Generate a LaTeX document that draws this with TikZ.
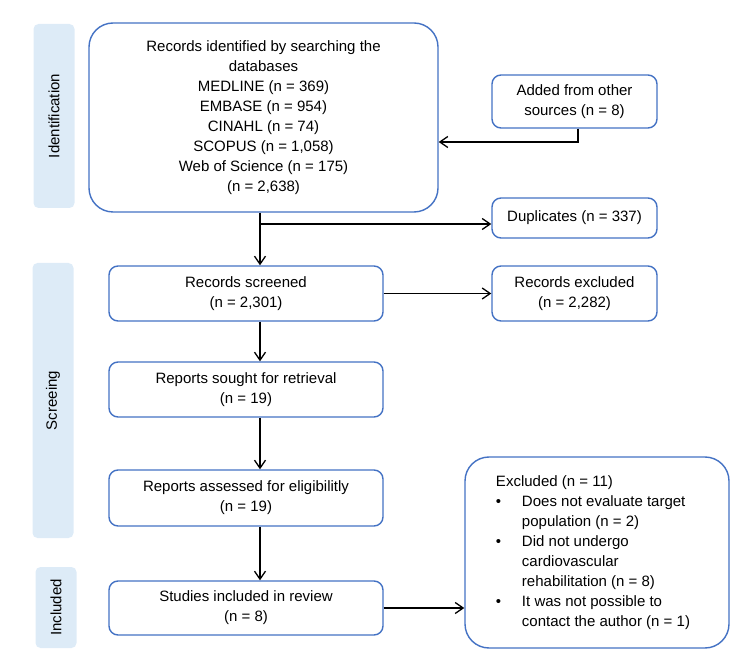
\documentclass[tikz,border=0pt]{standalone}
\usepackage{fontspec}
\setmainfont{Liberation Sans}
\usetikzlibrary{positioning,arrows.meta}
\definecolor{boxblue}{HTML}{4472C4}
\definecolor{barblue}{HTML}{DDEBF7}

\begin{document}
\begin{tikzpicture}[x=1pt, y=-1pt,
    >={Straight Barb[length=8pt,width=11pt]},
    every node/.style={font=\fontsize{15}{20}\selectfont, inner sep=2pt},
    stagebar/.style={fill=barblue, rounded corners=5pt, rotate=90, minimum height=41pt},
    flowbox/.style={draw=boxblue, line width=1.4pt, fill=white, rounded corners=9pt, align=center},
    bigbox/.style={flowbox, rounded corners=24pt},
    link/.style={->, line width=1.3pt, black}]
    \useasboundingbox (0,0) rectangle (750,660);

    % Stage bars on the left
    \node[stagebar, minimum width=184pt] (idbar) at (54,116) {Identification};
    \node[stagebar, minimum width=275pt] (scbar) at (53,400.5) {Screeing};
    \node[stagebar, minimum width=81pt] (inbar) at (56,607.5) {Included};

    % Identification
    \node[bigbox, minimum width=349pt, minimum height=189pt] (search) at (263.5,117.5)
        {Records identified by searching the\\ databases\\ MEDLINE (n = 369)\\
         EMBASE (n = 954)\\ CINAHL (n = 74)\\ SCOPUS (n = 1,058)\\
         Web of Science (n = 175)\\ (n = 2,638)};
    \node[flowbox, minimum width=165pt, minimum height=53pt] (other) at (574.5,101.5)
        {Added from other\\ sources (n = 8)};
    \node[flowbox, minimum width=165pt, minimum height=40pt] (dups) at (574.5,218)
        {Duplicates (n = 337)};

    % Screening
    \node[flowbox, minimum width=274pt, minimum height=55pt] (screened) at (246,293.5)
        {Records screened\\ (n = 2,301)};
    \node[flowbox, minimum width=165pt, minimum height=55pt] (recexcl) at (574.5,293.5)
        {Records excluded\\ (n = 2,282)};
    \node[flowbox, minimum width=274pt, minimum height=55pt] (sought) at (246,389.5)
        {Reports sought for retrieval\\ (n = 19)};
    \node[flowbox, minimum width=274pt, minimum height=56pt] (assessed) at (246,498)
        {Reports assessed for eligibilitly\\ (n = 19)};

    % Included
    \node[flowbox, minimum width=274pt, minimum height=54pt] (studies) at (246,608)
        {Studies included in review\\ (n = 8)};
    \node[bigbox, minimum width=264pt, minimum height=191pt] (excluded) at (597,552.5)
        {\hspace*{-8pt}\begin{tabular}{@{}p{26pt}@{}l@{}}
         \multicolumn{2}{@{}l@{}}{Excluded (n = 11)}\\
         \textbullet & Does not evaluate target\\
          & population (n = 2)\\
         \textbullet & Did not undergo\\
          & cardiovascular\\
          & rehabilitation (n = 8)\\
         \textbullet & It was not possible to\\
          & contact the author (n = 1)
         \end{tabular}};

    % Connectors
    \coordinate (spine) at (260,0);
    \coordinate (dupfork) at (260,224);
    \coordinate (addin) at (438,142);
    \draw[link] (other.south -| 578,0) |- (search.east |- addin);
    \draw[line width=1.3pt] (search.south -| spine) -- (dupfork);
    \draw[link] (dupfork) -- (dupfork -| dups.west);
    \draw[link] (dupfork) -- (screened.north -| spine);
    \draw[link] (screened) -- (recexcl);
    \draw[link] (screened.south -| spine) -- (sought.north -| spine);
    \draw[link] (sought.south -| spine) -- (assessed.north -| spine);
    \draw[link] (assessed.south -| spine) -- (studies.north -| spine);
    \draw[link] (studies.east) -- (studies.east -| excluded.west);
\end{tikzpicture}
\end{document}
